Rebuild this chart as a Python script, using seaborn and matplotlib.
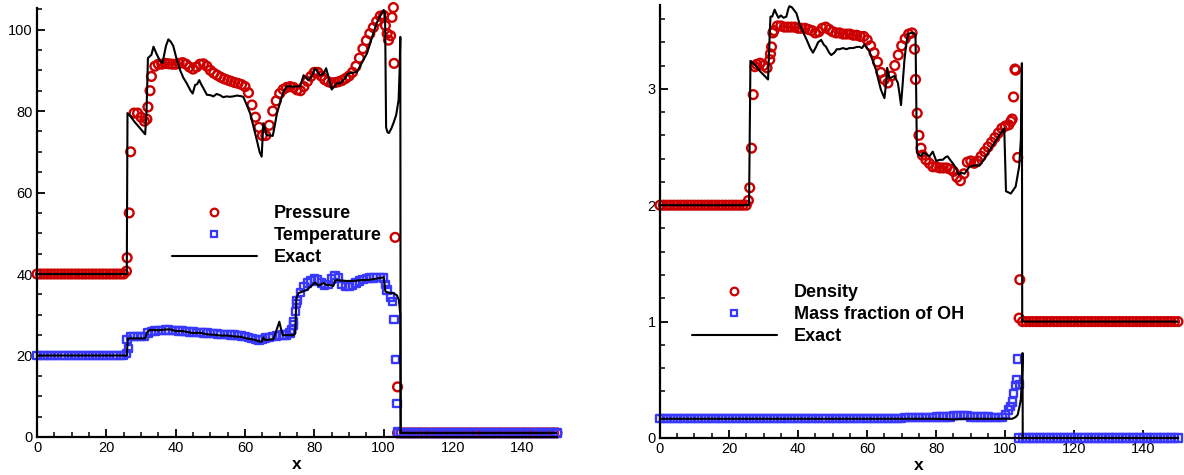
import numpy as np
import matplotlib
matplotlib.use("Agg")
import matplotlib.pyplot as plt
from matplotlib.lines import Line2D
from matplotlib.ticker import MultipleLocator
import seaborn as sns

# ---------------- data ----------------
x_grid = np.arange(0, 151)  # numerical grid positions 0..150

pressure = [
    40, 40, 40, 40, 40, 40, 40, 40, 40, 40, 40, 40, 40,
    40, 40, 40, 40, 40, 40, 40, 40, 40, 40, 40, 40, 40,
    44.0, 70.0, 79.5, 79.5, 78.5, 77.5, 81.0, 88.5, 91.0, 91.5,
    91.5, 91.7, 91.6, 91.5, 91.5, 91.7, 91.9, 91.5, 90.8, 90.3,
    90.8, 91.5, 91.6, 91.0, 90.0, 89.3, 88.8, 88.3, 87.9, 87.6,
    87.3, 87.0, 86.8, 86.5, 86.0, 84.5, 81.5, 78.5, 76.0, 74.0,
    74.0, 76.5, 80.0, 82.5, 84.3, 85.3, 85.8, 86.0, 85.8, 85.2,
    85.0, 86.0, 87.3, 88.5, 89.5, 89.5, 88.6, 87.7, 87.2, 86.9,
    87.0, 87.2, 87.5, 88.0, 88.6, 89.5, 91.0, 93.0, 95.3, 97.3,
    99.0, 100.5, 102.0, 103.3, 103.5, 99.0, 98.5, 91.7,
    1, 1, 1, 1, 1, 1, 1, 1, 1, 1, 1, 1, 1, 1, 1, 1,
    1, 1, 1, 1, 1, 1, 1, 1, 1, 1, 1, 1, 1, 1, 1, 1,
    1, 1, 1, 1, 1, 1, 1, 1, 1, 1, 1, 1, 1, 1, 1,
]
pressure_shock_x = [25.8, 26.6, 31.7, 32.6, 100.5, 101.4, 102.4, 102.8, 103.3, 104.0]
pressure_shock_y = [40.7, 55.0, 78.0, 85.0, 101.0, 97.4, 103.0, 105.4, 49.0, 12.3]

temperature = [
    20, 20, 20, 20, 20, 20, 20, 20, 20, 20, 20, 20, 20,
    20, 20, 20, 20, 20, 20, 20, 20, 20, 20, 20, 20, 20,
    24.0, 24.6, 24.6, 24.6, 24.6, 24.7, 25.5, 25.9, 26.0, 26.1,
    26.2, 26.3, 26.3, 26.2, 26.1, 26.0, 26.0, 25.9, 25.8, 25.8,
    25.7, 25.6, 25.5, 25.5, 25.4, 25.4, 25.3, 25.2, 25.2, 25.1,
    25.0, 25.0, 24.9, 24.8, 24.6, 24.4, 24.1, 23.9, 23.8, 24.0,
    24.3, 24.5, 24.7, 24.8, 24.9, 25.0, 25.0, 25.5, 28.3, 33.5,
    35.5, 37.0, 37.8, 38.3, 38.8, 38.5, 37.8, 37.3, 37.5, 38.8,
    39.6, 39.0, 37.5, 36.9, 37.0, 37.3, 37.8, 38.3, 38.7, 38.9,
    39.0, 39.0, 39.1, 39.2, 39.0, 36.1, 34.4, 28.8, 1.2,
    1, 1, 1, 1, 1, 1, 1, 1, 1, 1, 1, 1, 1, 1, 1, 1,
    1, 1, 1, 1, 1, 1, 1, 1, 1, 1, 1, 1, 1, 1, 1, 1,
    1, 1, 1, 1, 1, 1, 1, 1, 1, 1, 1, 1, 1, 1,
]
temperature_shock_x = [25.8, 26.3, 73.5, 74.0, 74.5, 74.9, 100.5, 102.6, 103.4, 103.8]
temperature_shock_y = [20.5, 21.8, 26.3, 27.5, 30.8, 32.8, 37.5, 33.2, 19.0, 8.3]

density = [
    2.0, 2.0, 2.0, 2.0, 2.0, 2.0, 2.0, 2.0, 2.0, 2.0, 2.0, 2.0, 2.0,
    2.0, 2.0, 2.0, 2.0, 2.0, 2.0, 2.0, 2.0, 2.0, 2.0, 2.0, 2.0, 2.0,
    2.15, 2.95, 3.21, 3.22, 3.20, 3.18, 3.30, 3.50, 3.54, 3.54,
    3.53, 3.53, 3.53, 3.53, 3.52, 3.52, 3.52, 3.51, 3.50, 3.48,
    3.49, 3.52, 3.53, 3.51, 3.49, 3.48, 3.48, 3.47, 3.47, 3.47,
    3.46, 3.46, 3.45, 3.45, 3.42, 3.37, 3.31, 3.23, 3.14, 3.08,
    3.05, 3.11, 3.20, 3.29, 3.37, 3.43, 3.47, 3.48, 3.08, 2.60,
    2.43, 2.39, 2.36, 2.33, 2.33, 2.32, 2.32, 2.32, 2.31, 2.29,
    2.24, 2.21, 2.27, 2.37, 2.38, 2.36, 2.38, 2.42, 2.46, 2.50,
    2.54, 2.58, 2.62, 2.66, 2.68, 2.69, 2.74, 3.16, 1.03,
    1.0, 1.0, 1.0, 1.0, 1.0, 1.0, 1.0, 1.0, 1.0, 1.0, 1.0, 1.0, 1.0, 1.0, 1.0, 1.0,
    1.0, 1.0, 1.0, 1.0, 1.0, 1.0, 1.0, 1.0, 1.0, 1.0, 1.0, 1.0, 1.0, 1.0, 1.0, 1.0,
    1.0, 1.0, 1.0, 1.0, 1.0, 1.0, 1.0, 1.0, 1.0, 1.0, 1.0, 1.0, 1.0, 1.0,
]
density_shock_x = [25.6, 26.5, 27.5, 31.8, 32.3, 32.7, 73.7, 74.5, 75.6,
                   101.6, 102.4, 102.8, 103.6, 104.2]
density_shock_y = [2.04, 2.49, 3.19, 3.25, 3.36, 3.48, 3.34, 2.79, 2.49,
                   2.72, 2.93, 3.17, 2.41, 1.36]

oh_fraction = [
    0.17, 0.17, 0.17, 0.17, 0.17, 0.17, 0.17, 0.17, 0.17, 0.17, 0.17, 0.17,
    0.17, 0.17, 0.17, 0.17, 0.17, 0.17, 0.17, 0.17, 0.17, 0.17, 0.17, 0.17,
    0.17, 0.17, 0.17, 0.17, 0.17, 0.17, 0.17, 0.17, 0.17, 0.17, 0.17, 0.17,
    0.17, 0.17, 0.17, 0.17, 0.17, 0.17, 0.17, 0.17, 0.17, 0.17, 0.17, 0.17,
    0.17, 0.17, 0.17, 0.17, 0.17, 0.17, 0.17, 0.17, 0.17, 0.17, 0.17, 0.17,
    0.17, 0.17, 0.17, 0.17, 0.17, 0.17, 0.17, 0.17, 0.17, 0.17, 0.17,
    0.175, 0.175, 0.175, 0.175, 0.175, 0.175, 0.175, 0.175, 0.175,
    0.18, 0.18, 0.18, 0.18, 0.18,
    0.195, 0.195, 0.195, 0.195, 0.195,
    0.18, 0.18, 0.18, 0.18, 0.18, 0.18,
    0.175, 0.175, 0.175, 0.175,
    0.20, 0.24, 0.31, 0.45,
    0, 0, 0, 0, 0, 0, 0, 0, 0, 0, 0, 0, 0, 0, 0, 0,
    0, 0, 0, 0, 0, 0, 0, 0, 0, 0, 0, 0, 0, 0, 0, 0,
    0, 0, 0, 0, 0, 0, 0, 0, 0, 0, 0, 0, 0, 0, 0,
]
oh_shock_x = [101.6, 102.4, 103.2, 103.6, 104.2]
oh_shock_y = [0.27, 0.38, 0.50, 0.68, 0.46]

# exact solutions (polyline vertices)
exact_p_x = [0, 25.9, 26.1, 27, 28, 29, 30, 31.2, 31.6, 32.0, 33.0, 33.6, 34.5, 35.5,
             36.2, 37.2, 37.9, 38.6, 39.3, 40.2, 41.3, 42.2, 43.2, 44.3, 44.9, 45.6,
             46.2, 46.8, 47.4, 48.0, 49, 50, 50.9, 51.8, 52.8, 53.7, 54.7, 55.6, 56.6,
             57.6, 58.6, 59.5, 60.5, 61.5, 62.5, 63.4, 64.2, 64.8, 65.3, 66.3, 67.2,
             68.0, 68.6, 69.2, 70.6, 71.3, 72.1, 74, 75.9, 76.9, 78.3, 79.2, 80.2,
             81.0, 81.7, 82.5, 83.4, 84.2, 85.0, 86.5, 87.5, 88.4, 89.8, 91, 92.3,
             93.8, 95.2, 96.6, 98, 99, 100, 100.4, 100.7, 101.1, 101.5, 102.2, 102.8,
             103.6, 104.3, 104.6, 104.8, 104.9, 150]
exact_p_y = [40, 40, 79.5, 78.7, 77.5, 76.5, 75.5, 74.3, 80, 93, 93.8, 95.8, 94, 92.3,
             91.8, 96, 97.6, 97, 96, 93, 90, 88.2, 86.8, 85, 84.3, 86.4,
             86.6, 87.6, 86.5, 85.6, 84, 83.9, 83.6, 84.2, 83.9, 83.4, 83.6, 83.5, 83.6,
             83.8, 83.7, 83.5, 81.5, 79.4, 76, 72.9, 70, 68.8, 77, 74.1, 74,
             73.9, 76.5, 79.4, 83.5, 85, 86.1, 86, 86.1, 88.8, 87.6, 88.5, 90.5,
             89.5, 88.8, 89, 90.5, 88, 85.3, 86.8, 86.8, 87.6, 89.2, 89.4, 89.6,
             92, 94.2, 98, 101.6, 103.3, 104.8, 104, 76, 74.8, 74.6, 75.7, 77,
             79, 82.7, 90, 98.2, 1.0, 1.0]

exact_t_x = [0, 25.9, 26.2, 31.2, 31.7, 32.6, 35, 37.4, 38.5, 40, 42, 43.2, 45, 47, 49,
             50.9, 53, 55, 56.7, 58.6, 60.5, 62.5, 64.4, 64.9, 65.3, 65.8, 68.2, 69.0,
             69.9, 70.4, 70.9, 74.0, 74.5, 74.8, 75.4, 77.8, 79, 80.2, 81.0, 81.7,
             82.6, 83.6, 84.5, 85.5, 86.0, 86.7, 89, 91.3, 93.5, 96.1, 98, 100, 100.5,
             101.5, 102.8, 103.8, 104.4, 104.8, 104.9, 150]
exact_t_y = [20, 20, 24.2, 24.2, 25.6, 26.3, 26.2, 26.4, 26.4, 26.0, 26.0, 25.8, 25.5,
             25.6, 25.2, 25.1, 24.9, 24.9, 24.7, 24.6, 24.2, 23.9, 23.4, 23.5, 24.4,
             23.8, 24.0, 26, 28.3, 26.5, 25.0, 25.0, 25.5, 34, 35.3, 36.1, 37, 37.9,
             37.2, 37.3, 37.8, 37.3, 37.3, 37.1, 38.4, 38.5, 38.3, 38.3, 38.5, 38.6,
             38.9, 39.2, 35.7, 35.4, 35.3, 34.8, 33.6, 30, 1.0, 1.0]

exact_d_x = [0, 25.8, 26.2, 27, 28, 29, 30, 31.3, 31.7, 32.0, 32.5, 33.2, 33.8, 34.3,
             35.0, 35.8, 36.6, 37.2, 37.5, 38.2, 39.5, 40.5, 41.4, 42.5, 43.5, 44.3,
             45.2, 45.8, 46.7, 47.4, 48.1, 49.0, 49.6, 50.5, 51.2, 52, 53, 54, 54.9,
             56, 57, 57.8, 58.5, 59.2, 60.7, 61.5, 62.6, 63.3, 64.0, 65.0, 65.5, 65.8,
             66.5, 67.9, 68.9, 69.4, 69.8, 70.3, 70.8, 71.3, 71.8, 72.7, 73.5, 74.0,
             74.4, 75.6, 76.3, 77.1, 78.0, 79.0, 80, 81, 81.9, 82.6, 83.3, 84.0, 84.8,
             85.7, 86.5, 87.3, 88.2, 89.6, 91, 92.5, 94, 95.4, 97, 98.3, 99.7, 100.2,
             101.6, 103, 104, 104.5, 104.8, 104.9, 150]
exact_d_y = [2.0, 2.0, 3.24, 3.22, 3.19, 3.15, 3.12, 3.08, 3.4, 3.62, 3.62, 3.68, 3.64,
             3.61, 3.63, 3.61, 3.62, 3.69, 3.71, 3.7, 3.65, 3.55, 3.49, 3.42, 3.35, 3.31,
             3.36, 3.40, 3.42, 3.38, 3.36, 3.31, 3.29, 3.31, 3.34, 3.34, 3.35, 3.34,
             3.35, 3.35, 3.36, 3.36, 3.35, 3.38, 3.32, 3.25, 3.16, 3.07, 2.99, 2.92,
             3.05, 3.18, 3.09, 3.11, 3.05, 2.95, 2.86, 3.05, 3.25, 3.38, 3.47, 3.48,
             3.48, 3.46, 2.45, 2.42, 2.45, 2.44, 2.42, 2.46, 2.38, 2.39, 2.39, 2.41,
             2.42, 2.39, 2.36, 2.32, 2.26, 2.28, 2.27, 2.33, 2.34, 2.34, 2.40, 2.47,
             2.54, 2.60, 2.66, 2.12, 2.10, 2.16, 2.33, 2.56, 3.22, 1.0, 1.0]

exact_oh_x = [0, 80, 85, 88, 102, 103, 103.6, 104.1, 104.5, 104.8, 105.0, 105.05, 150]
exact_oh_y = [0.165, 0.165, 0.16, 0.165, 0.165, 0.18, 0.2, 0.27, 0.33, 0.5, 0.73, 0.0, 0.0]

RED = "#cc0000"
BLUE = "#3838ff"

# ---------------- figure ----------------
sns.set_theme(style="ticks")
plt.rcParams["font.family"] = ["Liberation Sans", "DejaVu Sans"]
plt.rcParams["text.color"] = "black"

fig = plt.figure(figsize=(11.84, 4.75), dpi=100)
ax1 = fig.add_axes([0.03125, 0.08, 0.4392, 0.9032])
ax2 = fig.add_axes([0.5574, 0.0779, 0.4375, 0.9116])


def markers(ax, xs, ys, marker, size, color):
    sns.scatterplot(x=np.asarray(xs, float), y=np.asarray(ys, float), ax=ax,
                    marker=marker, s=size, facecolor="none", edgecolor=color,
                    linewidth=1.7, clip_on=False, legend=False, zorder=2)


def exact(ax, xs, ys):
    sns.lineplot(x=xs, y=ys, ax=ax, color="black", linewidth=1.5,
                 estimator=None, sort=False, zorder=4, legend=False)


# left panel
markers(ax1, list(x_grid) + pressure_shock_x, pressure + pressure_shock_y, "o", 40, RED)
markers(ax1, list(x_grid) + temperature_shock_x, temperature + temperature_shock_y, "s", 28, BLUE)
exact(ax1, exact_p_x, exact_p_y)
exact(ax1, exact_t_x, exact_t_y)

# right panel
markers(ax2, list(x_grid) + density_shock_x, density + density_shock_y, "o", 40, RED)
markers(ax2, list(x_grid) + oh_shock_x, oh_fraction + oh_shock_y, "s", 28, BLUE)
exact(ax2, exact_d_x, exact_d_y)
exact(ax2, exact_oh_x, exact_oh_y)

ax1.set_xlim(0, 150)
ax1.set_ylim(0, 105.3)
ax2.set_xlim(0, 150)
ax2.set_ylim(0, 3.72)

ax1.yaxis.set_major_locator(MultipleLocator(20))
ax1.yaxis.set_minor_locator(MultipleLocator(5))
ax2.yaxis.set_major_locator(MultipleLocator(1))
ax2.yaxis.set_minor_locator(MultipleLocator(0.2))

for ax in (ax1, ax2):
    ax.xaxis.set_major_locator(MultipleLocator(20))
    ax.xaxis.set_minor_locator(MultipleLocator(5))
    ax.grid(False)
    for side in ("top", "right"):
        ax.spines[side].set_visible(False)
    for side in ("left", "bottom"):
        ax.spines[side].set_linewidth(1.6)
        ax.spines[side].set_color("black")
    ax.tick_params(which="major", direction="in", length=6.0, width=1.3,
                   color="black", labelcolor="black", labelsize=10.5, pad=3)
    ax.tick_params(which="minor", direction="in", length=3.5, width=1.1,
                   color="black")
    ax.set_xlabel("x", fontweight="bold", fontsize=12.5, labelpad=1, color="black")
    ax.set_ylabel("")
    ax.set_facecolor("white")


def legend(ax, labels, anchor):
    handles = [
        Line2D([], [], marker="o", ls="", mfc="none", mec=RED, mew=1.6, ms=5.5),
        Line2D([], [], marker="s", ls="", mfc="none", mec=BLUE, mew=1.6, ms=4.8),
        Line2D([], [], color="black", lw=1.5),
    ]
    leg = ax.legend(handles, labels, loc="upper left", bbox_to_anchor=anchor,
                    bbox_transform=fig.transFigure, frameon=False,
                    prop={"weight": "bold", "size": 13}, handlelength=4.7,
                    handletextpad=0.95, labelspacing=0.28, borderpad=0,
                    borderaxespad=0)
    for t in leg.get_texts():
        t.set_color("black")


legend(ax1, ["Pressure", "Temperature", "Exact"], (172 / 1184, 1 - 205 / 475))
legend(ax2, ["Density", "Mass fraction of OH", "Exact"], (691.7 / 1184, 1 - 284 / 475))

fig.savefig("out.png", dpi=100)
